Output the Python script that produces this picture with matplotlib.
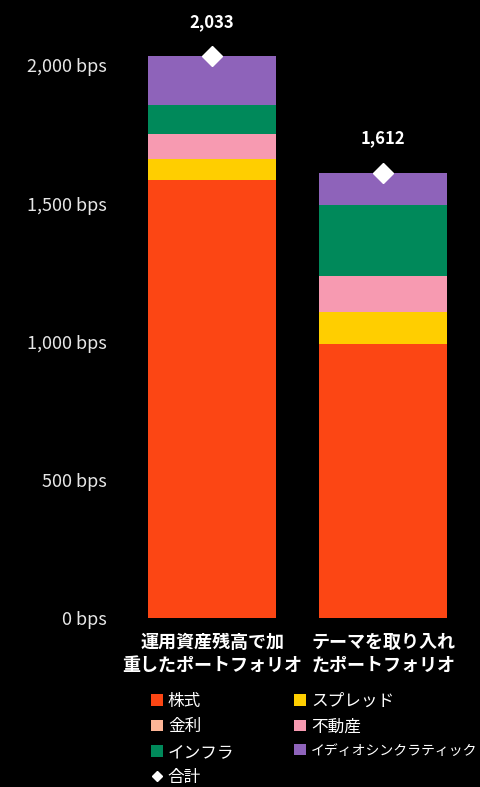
import numpy as np
import matplotlib.pyplot as plt
from matplotlib.patches import Patch
from matplotlib.lines import Line2D

plt.rcParams['font.family'] = ['Noto Sans CJK JP', 'DejaVu Sans']

# data (bps)
portfolios = ['運用資産残高で加\n重したポートフォリオ', 'テーマを取り入れ\nたポートフォリオ']
equity = [1584, 991]
rates = [0, 0]
spread = [76, 117]
real_estate = [90, 130]
infra = [105, 258]
idio = [178, 116]
totals = [2033, 1612]

series = [
    ('株式', equity, '#FC4614'),
    ('金利', rates, '#FDB596'),
    ('スプレッド', spread, '#FFCE00'),
    ('不動産', real_estate, '#F79AB1'),
    ('インフラ', infra, '#00895A'),
    ('イディオシンクラティック', idio, '#8E63BA'),
]

fig = plt.figure(figsize=(4.81, 7.87), dpi=100, facecolor='black')
ax = fig.add_axes([0.263, 0.2147, 0.711, 0.7725])
ax.set_facecolor('black')

x = np.arange(len(portfolios))
bottom = np.zeros(len(portfolios))
for name, vals, col in series:
    ax.bar(x, vals, width=0.75, bottom=bottom, color=col, label=name)
    bottom += np.array(vals)

ax.plot(x, totals, linestyle='none', marker='D', color='white', markersize=10)
for xi, t in zip(x, totals):
    ax.annotate(f'{t:,}', (xi, t), xytext=(0, 18), textcoords='offset points',
                ha='center', va='bottom', color='white', fontsize=12, fontweight='bold')

ax.set_xlim(-0.5, 1.5)
ax.set_ylim(0, 2200)
ax.set_yticks([0, 500, 1000, 1500, 2000])
ax.set_yticklabels([f'{v:,} bps' for v in [0, 500, 1000, 1500, 2000]])
ax.set_xticks(x)
ax.set_xticklabels(portfolios, fontweight='bold')
ax.tick_params(axis='y', length=0, colors='#e6e6e6', labelsize=13, pad=14)
ax.tick_params(axis='x', length=0, colors='white', labelsize=13, pad=11)
for s in ax.spines.values():
    s.set_visible(False)

handles = {name: Patch(facecolor=col) for name, vals, col in series}
handles['合計'] = Line2D([], [], linestyle='none', marker='D', color='white', markersize=5)
order = ['株式', '金利', 'インフラ', '合計', 'スプレッド', '不動産', 'イディオシンクラティック']
leg = fig.legend([handles[k] for k in order], order, ncol=2, loc='upper left',
                 bbox_to_anchor=(0.297, 0.13), frameon=False, fontsize=12,
                 labelcolor='white', handlelength=0.7, handleheight=0.7,
                 handletextpad=0.3, columnspacing=3.6, labelspacing=0.5, borderpad=0)
# long katakana label is wider in this font than in the original; shrink it to fit
leg.get_texts()[-1].set_fontsize(10)

fig.savefig('out.png', dpi=100, facecolor='black')
